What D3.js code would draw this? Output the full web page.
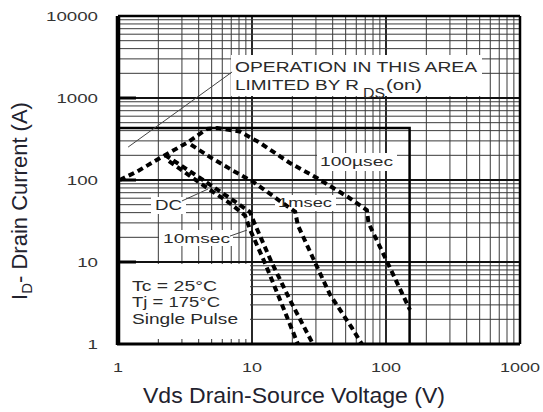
<!DOCTYPE html>
<html>
<head>
<meta charset="utf-8">
<script src="https://cdn.jsdelivr.net/npm/d3@7"></script>
<style>
  body { margin: 0; background: #fff; }
  text { font-family: "Liberation Sans", Arial, sans-serif; }
</style>
</head>
<body>
<div id="chart"></div>
<script>
const WIDTH = 543;
const HEIGHT = 412;
const LEFT = 118, RIGHT = 520, TOP = 16, BOTTOM = 344;
const TEXT = '#2a2a2a';

// axis ticks
const xTickValues = [1, 10, 100, 1000];
const xTickLabels = ['1', '10', '100', '1000'];
const yTickValues = [1, 10, 100, 1000, 10000];
const yTickLabels = ['1', '10', '100', '1000', '10000'];

// safe operating area curves, [Vds, Id]
const pulse100us = [[1.03, 100], [1.4, 128], [2.06, 185], [3.33, 290], [4.6, 420], [5.5, 430],
                    [8.1, 390], [11.5, 283], [19.2, 161], [30.5, 106], [52, 62], [72, 43],
                    [74, 30], [103, 9.7], [151, 2.6]];
const pulse1ms = [[3.5, 270], [5.0, 185], [7.1, 132], [10.2, 95], [14.3, 64], [21, 41],
                  [22, 28], [28.5, 11.2], [38.2, 4.0], [55.7, 1.57], [66, 1.0]];
const pulse10ms = [[2.24, 202], [4.09, 106], [6.85, 60], [9.66, 40.7], [10.4, 30],
                   [14.1, 9.7], [19.2, 3.44], [28.5, 1]];
const dcCurve = [[2.4, 170], [4.09, 92], [6.85, 52], [8.87, 37], [9.7, 24.5],
                 [12.5, 9.7], [16.2, 3.44], [22, 1]];

// package limit box
const limitCurrent = 430;
const limitVoltage = 150;

const curveNames = ['100µsec', '1msec', 'DC', '10msec'];
const conditions = ['Tc = 25°C', 'Tj = 175°C', 'Single Pulse'];

const svg = d3.select('#chart')
              .append('svg')
              .attr('width', WIDTH)
              .attr('height', HEIGHT);

const x = d3.scaleLog().domain([1, 1000]).range([LEFT, RIGHT]);
const y = d3.scaleLog().domain([1, 10000]).range([BOTTOM, TOP]);

const isDecade = v => Math.abs(Math.log10(v) - Math.round(Math.log10(v))) < 1e-9;

// grid
svg.append('g').selectAll('line')
   .data(x.ticks())
   .enter().append('line')
   .attr('x1', d => x(d)).attr('x2', d => x(d))
   .attr('y1', TOP).attr('y2', BOTTOM)
   .attr('stroke', d => isDecade(d) ? '#111' : '#3a3a3a')
   .attr('stroke-width', d => isDecade(d) ? 1.8 : 1);

svg.append('g').selectAll('line')
   .data(y.ticks())
   .enter().append('line')
   .attr('y1', d => y(d)).attr('y2', d => y(d))
   .attr('x1', LEFT).attr('x2', RIGHT)
   .attr('stroke', d => isDecade(d) ? '#111' : '#3a3a3a')
   .attr('stroke-width', d => isDecade(d) ? 1.8 : 1);

// helper for stretched text
function label(str, px, py, size, len) {
  const t = svg.append('text')
               .attr('x', px).attr('y', py)
               .attr('font-size', size)
               .attr('fill', TEXT)
               .text(str);
  if (len) t.attr('textLength', len).attr('lengthAdjust', 'spacingAndGlyphs');
  return t;
}

function whiteBox(x0, y0, x1, y1) {
  svg.append('rect')
     .attr('x', x0).attr('y', y0)
     .attr('width', x1 - x0).attr('height', y1 - y0)
     .attr('fill', '#fff');
}

// white areas behind annotations
whiteBox(231, 55, 482, 96);
whiteBox(119, 264, 250, 343);
whiteBox(317, 153, 397, 171);
whiteBox(275, 195, 336, 211);
whiteBox(151, 197, 186, 214);
whiteBox(159, 230, 233, 246);

// little ticks at the bottom of the conditions box
svg.append('g').selectAll('line')
   .data(x.ticks().filter(d => d < 10 && d > 1))
   .enter().append('line')
   .attr('x1', d => x(d)).attr('x2', d => x(d))
   .attr('y1', BOTTOM - 5).attr('y2', BOTTOM)
   .attr('stroke', '#333').attr('stroke-width', 1);

// limit box
svg.append('path')
   .attr('d', d3.line()([[x(1), y(limitCurrent)], [x(limitVoltage), y(limitCurrent)], [x(limitVoltage), y(1)]]))
   .attr('fill', 'none')
   .attr('stroke', '#000')
   .attr('stroke-width', 2.5);

// curves
const line = d3.line().x(d => x(d[0])).y(d => y(d[1]));
[pulse100us, pulse1ms, pulse10ms, dcCurve].forEach(c => {
  svg.append('path')
     .attr('d', line(c))
     .attr('fill', 'none')
     .attr('stroke', '#000')
     .attr('stroke-width', 4)
     .attr('stroke-dasharray', '6,4');
});

// leader lines
const leaders = [
  [[1.19, 252], [7.1, 2075]],
  [[3.0, 55.5], [4.7, 77.6]],
  [[6.85, 20.7], [9.17, 24.5]]
];
leaders.forEach(l => {
  svg.append('path')
     .attr('d', line(l))
     .attr('stroke', '#444')
     .attr('stroke-width', 1);
});

// annotations
label('OPERATION IN THIS AREA', 235, 72, 15, 242);
label('LIMITED BY R', 235, 90, 15, 124);
label('DS', 363, 98, 15, 22);
label('(on)', 386, 90, 15, 36);

label(curveNames[0], 320, 166, 13.5, 73);
label(curveNames[1], 278, 207, 13.5, 54);
label(curveNames[2], 155, 210, 14, 27);
label(curveNames[3], 163, 243, 13.5, 67);

label(conditions[0], 132, 291, 14.5, 85);
label(conditions[1], 132, 307, 14.5, 88);
label(conditions[2], 132, 324, 14.5, 106);

// frame and axis lines
svg.append('line').attr('x1', LEFT).attr('x2', RIGHT).attr('y1', TOP).attr('y2', TOP)
   .attr('stroke', '#000').attr('stroke-width', 2.5);
svg.append('line').attr('x1', RIGHT).attr('x2', RIGHT).attr('y1', TOP).attr('y2', BOTTOM)
   .attr('stroke', '#000').attr('stroke-width', 2.5);
svg.append('line').attr('x1', LEFT - 1).attr('x2', RIGHT).attr('y1', BOTTOM).attr('y2', BOTTOM)
   .attr('stroke', '#000').attr('stroke-width', 3);
svg.append('line').attr('x1', LEFT).attr('x2', LEFT).attr('y1', TOP).attr('y2', BOTTOM + 1)
   .attr('stroke', '#000').attr('stroke-width', 4.5);

// short heavy ticks on the left axis
svg.append('g').selectAll('line')
   .data(yTickValues.slice(1, 4))
   .enter().append('line')
   .attr('x1', LEFT).attr('x2', LEFT + 18)
   .attr('y1', d => y(d)).attr('y2', d => y(d))
   .attr('stroke', '#000').attr('stroke-width', 3);

// tick labels
yTickValues.forEach((v, i) => {
  const s = yTickLabels[i];
  const w = 10.4 * s.length;
  label(s, 98 - w, y(v) + 4.5, 13, w).attr('fill', '#333');
});
xTickValues.forEach((v, i) => {
  const s = xTickLabels[i];
  const w = 10 * s.length;
  label(s, x(v) - w / 2, 372, 13, w).attr('fill', '#333');
});

// axis titles
label('Vds Drain-Source Voltage (V)', 143, 403, 22, 302).attr('fill', '#22222e');

const yTitle = svg.append('text')
   .attr('transform', 'translate(27,201) rotate(-90)')
   .attr('text-anchor', 'middle')
   .attr('font-size', 22)
   .attr('fill', '#22222e');
yTitle.append('tspan').text('I');
yTitle.append('tspan').attr('font-size', 15).attr('dy', 5).text('D');
yTitle.append('tspan').attr('dy', -5).text('- Drain Current (A)');
</script>
</body>
</html>
